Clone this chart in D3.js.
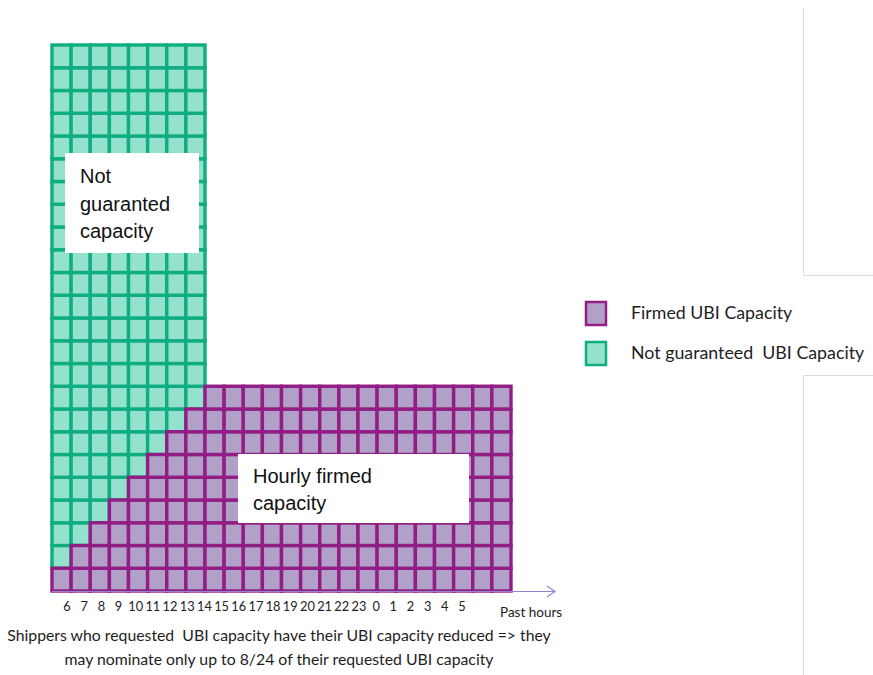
<!DOCTYPE html>
<html><head><meta charset="utf-8">
<script src="https://cdn.jsdelivr.net/npm/d3@7"></script>
<style>body{margin:0;background:#fff;}svg{display:block;} text{white-space:pre;}</style>
</head><body>
<svg id="c" width="873" height="675"></svg>
<script>
const hours = ["6","7","8","9","10","11","12","13","14","15","16","17","18","19","20","21","22","23","0","1","2","3","4","5"];
const firmed = [1,2,3,4,5,6,7,8,9,9,9,9,9,9,9,9,9,9,9,9,9,9,9,9];
const notGuaranteed = [23,22,21,20,19,18,17,16,0,0,0,0,0,0,0,0,0,0,0,0,0,0,0,0];
const legendLabels = ["Firmed UBI Capacity","Not guaranteed  UBI Capacity"];
const captionLines = ["Shippers who requested  UBI capacity have their UBI capacity reduced => they","may nominate only up to 8/24 of their requested UBI capacity"];

const svg = d3.select("#c");
const colors = {
  firmed:{fill:"#b1a1c9", stroke:"#921d84"},
  ng:{fill:"#94e1cd", stroke:"#0fae7f"}
};

const x = d3.scaleBand().domain(d3.range(hours.length)).range([52, 511]).padding(0);
const y = d3.scaleLinear().domain([0, 24]).range([591, 45]);

const cells = [];
hours.forEach((h,i)=>{
  for(let k=0;k<firmed[i];k++) cells.push({i,k,type:"firmed"});
  for(let k=0;k<notGuaranteed[i];k++) cells.push({i,k:firmed[i]+k,type:"ng"});
});
const g = svg.append("g");
g.selectAll("rect.ng").data(cells.filter(c=>c.type==="ng")).join("rect")
  .attr("x",d=>x(d.i)).attr("y",d=>y(d.k+1))
  .attr("width",x.bandwidth()).attr("height",d=>y(d.k)-y(d.k+1))
  .attr("fill",colors.ng.fill).attr("stroke",colors.ng.stroke).attr("stroke-width",3.4);
g.selectAll("rect.fi").data(cells.filter(c=>c.type==="firmed")).join("rect")
  .attr("x",d=>x(d.i)).attr("y",d=>y(d.k+1))
  .attr("width",x.bandwidth()).attr("height",d=>y(d.k)-y(d.k+1))
  .attr("fill",colors.firmed.fill).attr("stroke",colors.firmed.stroke).attr("stroke-width",3.4);

function box(x0,y0,w,h,lines,tx,ty,lh){
  svg.append("rect").attr("x",x0).attr("y",y0).attr("width",w).attr("height",h).attr("fill","#fff");
  lines.forEach((t,j)=>svg.append("text").attr("x",tx).attr("y",ty+j*lh)
    .attr("font-family","Liberation Sans, Arial, sans-serif").attr("font-size",20).attr("fill","#111").text(t));
}
box(65,153,134,100,["Not","guaranted","capacity"],80,183,27.5);
box(238,454,231,69,["Hourly firmed","capacity"],253,483,27);

const ax = svg.append("g");
ax.append("line").attr("x1",52).attr("x2",554).attr("y1",591.5).attr("y2",591.5).attr("stroke","#8f86cc").attr("stroke-width",1.2);
ax.append("path").attr("d","M547,586 L555,591.5 L547,597").attr("fill","none").attr("stroke","#8f86cc").attr("stroke-width",1.2);

const xl = d3.scalePoint().domain(hours).range([67, 462]);
svg.append("g").selectAll("text").data(hours).join("text")
  .attr("x",d=>xl(d)).attr("y",611).attr("text-anchor","middle")
  .attr("font-family","Lato, sans-serif").attr("font-size",12.8).attr("fill","#222").text(d=>d);
svg.append("text").attr("x",500).attr("y",617).attr("font-family","Lato, sans-serif").attr("font-size",13.5).attr("fill","#222").text("Past hours");

captionLines.forEach((t,j)=>svg.append("text").attr("x",279).attr("y",641+j*24).attr("text-anchor","middle")
  .attr("font-family","Lato, sans-serif").attr("font-size",15.8).attr("fill","#1e1e1e").text(t));

const lg = svg.append("g");
const lc = [colors.firmed, colors.ng];
legendLabels.forEach((t,j)=>{
  lg.append("rect").attr("x",586).attr("y",302+j*40).attr("width",20).attr("height",23)
    .attr("fill",lc[j].fill).attr("stroke",lc[j].stroke).attr("stroke-width",2.5);
  lg.append("text").attr("x",631).attr("y",319+j*40).attr("font-family","Lato, sans-serif")
    .attr("font-size",17.8).attr("fill","#1e1e1e").text(t);
});

svg.append("path").attr("d","M803.5,8 V275.5 H873").attr("fill","none").attr("stroke","#ddd").attr("stroke-width",1);
svg.append("path").attr("d","M803.5,675 V375.5 H873").attr("fill","none").attr("stroke","#ddd").attr("stroke-width",1);
</script>
</body></html>
